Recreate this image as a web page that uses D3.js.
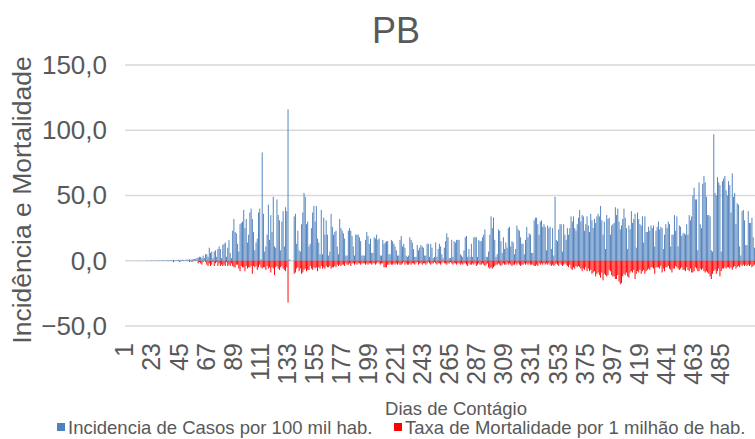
<!DOCTYPE html>
<html>
<head>
<meta charset="utf-8">
<script src="https://cdn.jsdelivr.net/npm/d3@7"></script>
<style>
  html, body { margin: 0; padding: 0; background: #fff; }
  svg { display: block; font-family: "Liberation Sans", Arial, sans-serif; }
</style>
</head>
<body>
<svg id="chart" width="755" height="439"></svg>
<script>
// Daily incidence of cases per 100k inhabitants, days 1..512
const incidencia = [
  0,0,0,0,0,0,0,0,0,0,0,0,0,0,
  0.1,0,0.1,0.1,0.2,0.1,0.2,0.3,0.2,0.1,0.3,0.2,0.3,0.4,0.2,0.3,
  0.3,0.4,0.2,0.5,0.4,0.3,0.6,0.5,0.4,0.7,0.5,0.3,0.6,0.8,0.5,0.7,0.9,0.6,0.4,0.8,1.0,0.7,
  1,0.8,1.0,1.2,1.3,1.5,2,2.5,3,3,2,4,2,5,5,3,10,6,7,2,7,8,3,9,11,9,2,12,13,14,3,10,16,6,2,23,
  32,22,21,13,7,28,29,30,39,25,32,14,20,37,40,32,22,8,14,17,37,40,1,83,
  36,7,11,20,43,16,35,22,49,11,10,47,35,31,8,30,38,11,41,38,116,
  1,0.3,0,0,34,36,13,23,8,7,28,37,52,49,28,30,
  11,13,25,37,42,30,42,17,14,5,39,5,33,20,31,20,4,7,36,26,
  20,22,23,11,5,32,25,23,21,17,4,4,23,25,23,19,11,4,20,20,
  20,18,15,4,4,4,16,22,19,13,17,6,6,18,17,20,16,17,4,4,16,
  13,14,15,15,5,5,16,15,13,11,8,4,4,16,19,11,13,10,4,3,4,
  18,16,14,9,3,3,12,8,10,12,11,10,4,4,13,13,3,13,10,2,3,
  14,3,9,13,11,5,2,10,15,21,18,2,2,16,3,15,14,16,16,
  16,5,4,3,8,18,19,3,9,3,13,3,18,18,18,3,16,15,15,18,
  20,24,3,3,7,20,34,25,33,16,3,5,24,23,15,6,18,9,14,10,
  25,26,11,15,14,5,9,27,24,23,18,13,13,5,16,26,18,21,20,6,6,
  31,33,33,28,20,30,31,26,28,26,8,27,25,26,9,25,4,49,16,15,
  24,28,28,7,28,20,16,25,20,25,34,30,34,25,23,28,33,39,30,35,
  34,23,28,34,27,22,36,31,25,32,29,34,36,34,42,31,20,30,9,35,32,
  33,20,27,28,29,41,35,40,30,24,27,32,40,33,25,9,27,24,38,29,
  32,36,10,37,32,28,27,34,14,34,22,22,26,23,27,25,27,11,23,26,
  30,24,26,25,9,20,28,25,30,28,11,20,20,35,23,34,11,27,26,19,21,
  21,20,28,20,35,31,34,50,56,47,47,8,60,28,25,59,65,60,49,35,
  35,34,8,7,97,52,50,64,60,58,7,61,63,65,54,50,61,58,37,67,
  49,52,28,44,43,11,4,38,39,31,12,12,38,29,29,33,18,10
];

// Daily mortality rate per 1M inhabitants (drawn below zero), days 1..512
const mortalidade = [
  0,0,0,0,0,0,0,0,0,0,0,0,0,0,0,0,0,0,0,0,
  0,0,0,0,0,0,0,0,0,0,0,0,0,0,0,0,0,0,0,
  -1,0,0,0,0,-1,0,0,0,0,0,0,0,
  -1,0,-1,0,0,0,0,-2,-1,-2,-3,-1,0,-1,-3,-4,-2,-4,-3,-1,
  -4,-2,-1,-4,-2,-4,-3,-4,-3,-4,-1,-4,-3,-4,-2,-4,
  -5,-5,-3,-3,-6,-8,-4,-5,-5,-8,-4,-6,-5,-5,-4,-10,-4,-5,-4,-7,
  -5,-3,-5,-6,-5,-5,-7,-4,-6,-5,-9,-5,-6,-11,-5,-4,-6,-7,-5,-4,
  -6,-7,-8,-5,-32,0,0,0,0,-10,-9,-6,-5,-8,-6,-10,-9,-7,-6,-8,-7,
  -7,-4,-6,-7,-5,-6,-5,-8,-5,-6,-4,-6,-5,-6,-4,-5,-5,-4,-6,-5,
  -5,-4,-5,-3,-4,-3,-4,-3,-3,-4,-2,-3,-3,-2,-4,-2,-2,-3,-2,-3,
  -2,-2,-3,-2,-2,-2,-3,-2,-3,-2,-2,-3,-2,-2,-3,-2,-1,-2,-3,-2,-2,
  -5,-5,-5,-3,-3,-2,-3,-3,-2,-3,-2,-3,-2,-3,-3,-2,-1,-3,-2,-3,
  -3,-2,-3,-2,-2,-3,-2,-1,-3,-2,-2,-3,-2,-2,-3,-2,-1,-2,-3,-2,
  -2,-1,-2,-3,-2,-2,-3,-2,-1,-2,-2,-3,-2,-2,-1,-2,-3,-2,-2,-3,-2,
  -2,-3,-2,-3,-2,-2,-3,-4,-2,-3,-3,-2,-3,-2,-4,-3,-2,-3,-3,-2,
  -3,-4,-3,-2,-5,-6,-5,-6,-5,-4,-3,-3,-2,-3,-4,-3,-2,-3,-3,-2,
  -3,-2,-3,-4,-3,-3,-2,-3,-2,-3,-4,-3,-3,-2,-3,-2,-3,-2,-3,-3,-3,
  -4,-4,-3,-4,-2,-3,-2,-3,-2,-3,-2,-3,-2,-3,-4,-3,-4,-3,-2,-3,
  -4,-2,-3,-4,-3,-2,-3,-4,-5,-3,-6,-7,-5,-6,-4,-5,-4,-5,-6,-8,
  -6,-7,-5,-8,-6,-8,-7,-10,-9,-8,-12,-10,-9,-11,-13,-9,-15,-10,-11,-12,-11,
  -7,-8,-11,-12,-12,-14,-14,-11,-16,-18,-17,-12,-10,-11,-9,-12,-13,-9,-8,-9,
  -7,-14,-10,-8,-9,-7,-10,-8,-7,-10,-8,-7,-6,-7,-5,-5,-6,-10,-5,-5,
  -5,-6,-4,-9,-6,-8,-5,-5,-4,-6,-7,-9,-6,-6,-4,-5,-6,-7,-6,-5,-7,
  -7,-8,-5,-7,-8,-6,-9,-9,-8,-5,-6,-8,-8,-6,-7,-6,-8,-9,-8,-9,
  -10,-12,-14,-10,-8,-7,-10,-8,-6,-12,-8,-6,-6,-5,-6,-5,-5,-6,-5,-7,
  -5,-4,-6,-5,-4,-5,-3,-4,-3,-4,-3,-4,-3,-4,-3,-5,-4,-3
];

// Day numbers (categories) and labelled days on the axis
const dias = d3.range(1, incidencia.length + 1);
const diasRotulados = [1,23,45,67,89,111,133,155,177,199,221,243,265,287,309,331,353,375,397,419,441,463,485];
const yTicks = [-50, 0, 50, 100, 150];

const titulo = "PB";
const tituloY = "Incidência e Mortalidade";
const tituloX = "Dias de Contágio";
const serieNomes = ["Incidencia de Casos por 100 mil hab.", "Taxa de Mortalidade por 1 milhão de hab."];
const serieCores = ["#4f81bd", "#ff0000"];

const textColor = "#595959";
const svg = d3.select("#chart");
const plot = { left: 125, right: 755, top: 65, bottom: 326 };

const x = d3.scaleBand().domain(dias).range([plot.left, plot.right]).paddingInner(0.22).paddingOuter(0.1);
const y = d3.scaleLinear().domain([-50, 150]).range([plot.bottom, plot.top]);

// Horizontal gridlines
svg.append("g").selectAll("line").data(yTicks).join("line")
  .attr("x1", plot.left).attr("x2", plot.right)
  .attr("y1", d => y(d)).attr("y2", d => y(d))
  .attr("stroke", "#d9d9d9").attr("stroke-width", 1.5);

// Y axis labels
const yAxis = d3.axisLeft(y).tickValues(yTicks).tickSize(0).tickPadding(0)
  .tickFormat(d => d3.format(".1f")(d).replace(".", ","));
svg.append("g").attr("transform", `translate(107,0)`).call(yAxis)
  .call(g => g.select(".domain").remove())
  .selectAll("text").attr("fill", textColor).attr("font-size", 26)
  .attr("font-family", "Liberation Sans, Arial, sans-serif");

// Bars: incidence above zero, mortality below
svg.append("g").selectAll("rect").data(dias).join("rect")
  .attr("x", d => x(d)).attr("width", x.bandwidth())
  .attr("y", (d, i) => y(Math.max(0, incidencia[i])))
  .attr("height", (d, i) => Math.abs(y(incidencia[i]) - y(0)))
  .attr("fill", serieCores[0]);

svg.append("g").selectAll("rect").data(dias).join("rect")
  .attr("x", d => x(d)).attr("width", x.bandwidth())
  .attr("y", y(0))
  .attr("height", (d, i) => Math.abs(y(mortalidade[i]) - y(0)))
  .attr("fill", serieCores[1]);

// X axis labels, rotated
const xAxis = d3.axisBottom(x).tickValues(diasRotulados).tickSize(0).tickPadding(0);
svg.append("g").attr("transform", `translate(0,${plot.bottom})`).call(xAxis)
  .call(g => g.select(".domain").remove())
  .selectAll("text")
  .attr("fill", textColor).attr("font-size", 25)
  .attr("font-family", "Liberation Sans, Arial, sans-serif")
  .attr("text-anchor", "end").attr("dy", "0.35em")
  .attr("transform", "translate(-1,17) rotate(-90)")
  .attr("y", 0).attr("x", 0);

// Titles
svg.append("text").attr("x", 396).attr("y", 43).attr("text-anchor", "middle")
  .attr("font-size", 36).attr("fill", textColor).text(titulo);

svg.append("text").attr("transform", "translate(31,200) rotate(-90)")
  .attr("text-anchor", "middle").attr("font-size", 26.5).attr("fill", textColor).text(tituloY);

svg.append("text").attr("x", 456).attr("y", 415).attr("text-anchor", "middle")
  .attr("font-size", 18.5).attr("fill", textColor).text(tituloX);

// Legend
const legend = svg.append("g");
const legX = [57, 394];
serieNomes.forEach((nome, i) => {
  legend.append("rect").attr("x", legX[i]).attr("y", 423).attr("width", 8).attr("height", 8).attr("fill", serieCores[i]);
  legend.append("text").attr("x", legX[i] + 11).attr("y", 434).attr("font-size", 18.5)
    .attr("fill", textColor).text(nome);
});
</script>
</body>
</html>
